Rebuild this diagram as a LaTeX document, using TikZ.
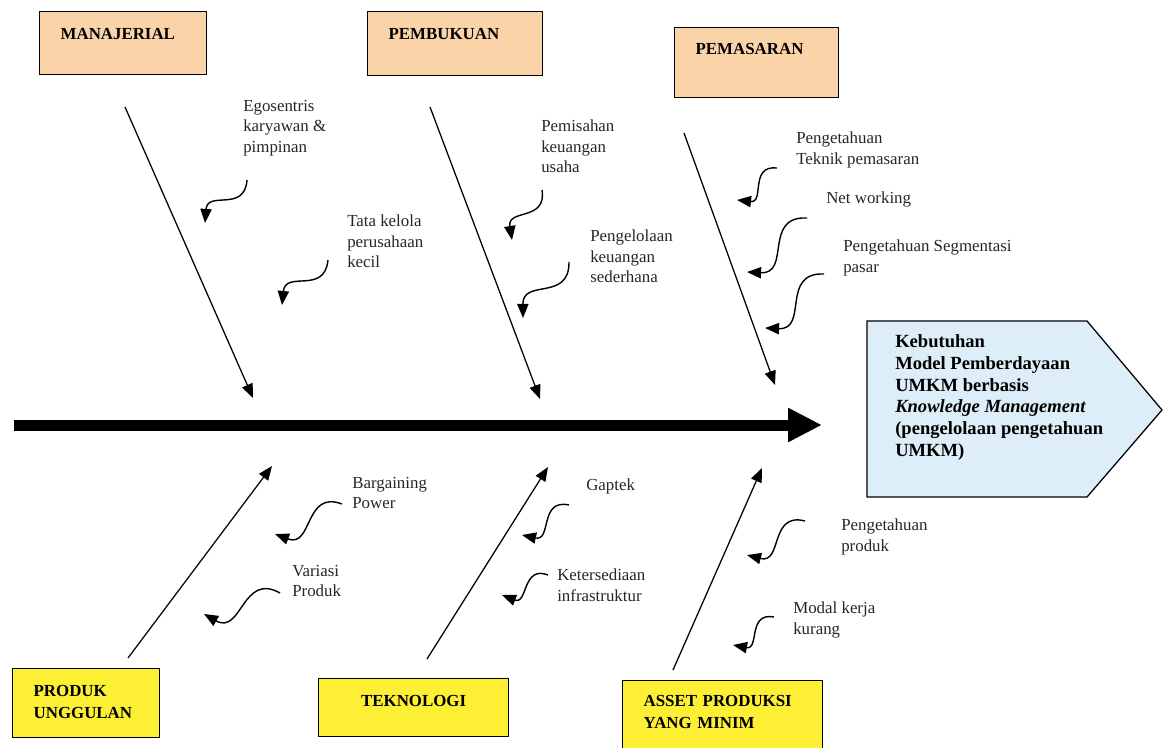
\documentclass[tikz,border=0pt]{standalone}
\usepackage{fontspec}
\setmainfont{Liberation Serif}
\usetikzlibrary{arrows.meta,calc,positioning,backgrounds}
\definecolor{peach}{RGB}{250,211,168}
\definecolor{lemon}{RGB}{253,240,52}
\definecolor{icy}{RGB}{221,238,248}
\tikzset{
  cause/.style     = {draw, line width=0.9pt, anchor=north west, inner xsep=0.525cm, inner ysep=0pt,
                      align=left, font=\bfseries\fontsize{12}{15.5}\selectfont},
  top cause/.style = {cause, fill=peach},
  low cause/.style = {cause, fill=lemon},
  factor/.style    = {anchor=north west, inner sep=0pt, align=left, text=black!85,
                      font=\fontsize{12}{14.5}\selectfont},
  goal/.style      = {anchor=north west, inner sep=0pt, align=left, font=\bfseries\fontsize{13.2}{15.6}\selectfont},
  bone/.style      = {-{Triangle[length=10pt,width=8pt]}, line width=0.9pt},
  spine/.style     = {-{Triangle[length=0.85cm,width=0.8cm]}, line width=0.275cm},
  squiggle/.style  = {-{Triangle[length=10pt,width=8pt]}, line width=1pt,
                      to path={.. controls ($(\tikztostart)!0.55!#1:(\tikztotarget)$)
                               and ($(\tikztotarget)!0.55!#1:(\tikztostart)$) .. (\tikztotarget)}},
  squiggle/.default = -45
}

\begin{document}
\begin{tikzpicture}[x=0.025cm, y=-0.025cm]
  \useasboundingbox (0,0) rectangle (1170,748);

  %Cause boxes
  \node[top cause, text width=3.125cm, text height=0.7cm, text depth=0.875cm] (mgr) at (39,11) {MANAJERIAL};
  \node[top cause, text width=3.325cm, text height=0.7cm, text depth=0.9cm] (book) at (367,11) {PEMBUKUAN};
  \node[top cause, text width=3.05cm, text height=0.675cm, text depth=1.075cm] (mkt) at (674,27) {PEMASARAN};
  \node[low cause, text width=2.625cm, text height=0.69cm, text depth=1.04cm] (prod) at (12,668) {PRODUK\\UNGGULAN};
  \node[low cause, align=center, text width=3.7cm, text height=0.69cm, text depth=0.76cm] (tech) at (318,678) {TEKNOLOGI};
  \node[low cause, text width=3.95cm, text height=0.64cm, text depth=2cm] (asset) at (622,680) {ASSET PRODUKSI\\YANG MINIM};

  %Effect
  \node[goal] (effect) at (895,334) {Kebutuhan\\Model Pemberdayaan\\UMKM berbasis\\
    \textit{Knowledge Management}\\(pengelolaan pengetahuan\\UMKM)};
  \begin{scope}[on background layer]
    \draw[fill=icy, line width=0.9pt] (867,321) -- (1087,321) -- (1162,410) -- (1087,497) -- (867,497) -- cycle;
  \end{scope}

  %Spine
  \coordinate (spine-start) at (14,425);
  \coordinate (spine-end) at (822,425);
  \draw[spine] (spine-start) -- (spine-end);

  %Bones
  \coordinate (mgr-tail) at (125,107);   \coordinate (mgr-head) at (253,398);
  \coordinate (book-tail) at (430,107);  \coordinate (book-head) at (540,399);
  \coordinate (mkt-tail) at (684,133);   \coordinate (mkt-head) at (775,385);
  \coordinate (prod-tail) at (128,658);  \coordinate (prod-head) at (272,466);
  \coordinate (tech-tail) at (427,659);  \coordinate (tech-head) at (548,467);
  \coordinate (asset-tail) at (673,670); \coordinate (asset-head) at (762,468);
  \draw[bone] (mgr-tail) -- (mgr-head);
  \draw[bone] (book-tail) -- (book-head);
  \draw[bone] (mkt-tail) -- (mkt-head);
  \draw[bone] (prod-tail) -- (prod-head);
  \draw[bone] (tech-tail) -- (tech-head);
  \draw[bone] (asset-tail) -- (asset-head);

  %Labels
  \node[factor] (ego) at (243,100) {Egosentris\\karyawan \&\\pimpinan};
  \node[factor] (govern) at (347,215) {Tata kelola\\perusahaan\\kecil};
  \node[factor] (split) at (541,120) {Pemisahan\\keuangan\\usaha};
  \node[factor] (simple) at (590,230) {Pengelolaan\\keuangan\\sederhana};
  \node[factor] (technique) at (796,132) {Pengetahuan\\Teknik pemasaran};
  \node[factor] (network) at (826,192) {Net working};
  \node[factor] (segment) at (843,240) {Pengetahuan Segmentasi\\pasar};
  \node[factor] (bargain) at (352,477) {Bargaining\\Power};
  \node[factor] (variety) at (292,565) {Variasi\\Produk};
  \node[factor] (gaptek) at (586,479) {Gaptek};
  \node[factor] (infra) at (557,569) {Ketersediaan\\infrastruktur};
  \node[factor] (know) at (841,519) {Pengetahuan\\produk};
  \node[factor] (capital) at (793,602) {Modal kerja\\kurang};

  %Squiggly pointers
  \coordinate (ego-a) at (247,180);       \coordinate (ego-b) at (205,223);
  \coordinate (govern-a) at (328,260);    \coordinate (govern-b) at (282,305);
  \coordinate (split-a) at (542,190);     \coordinate (split-b) at (512,240);
  \coordinate (simple-a) at (569,262);    \coordinate (simple-b) at (523,318);
  \coordinate (technique-a) at (777,168); \coordinate (technique-b) at (737,200);
  \coordinate (network-a) at (807,218);   \coordinate (network-b) at (747,272);
  \coordinate (segment-a) at (824,274);   \coordinate (segment-b) at (765,328);
  \coordinate (bargain-a) at (342,504);   \coordinate (bargain-b) at (275,534);
  \coordinate (variety-a) at (280,593);   \coordinate (variety-b) at (204,614);
  \coordinate (gaptek-a) at (569,505);    \coordinate (gaptek-b) at (522,535);
  \coordinate (infra-a) at (548,575);     \coordinate (infra-b) at (502,595);
  \coordinate (know-a) at (805,521);      \coordinate (know-b) at (747,555);
  \coordinate (capital-a) at (774,617);   \coordinate (capital-b) at (733,645);
  \draw[squiggle=40] (ego-a) to (ego-b);
  \draw[squiggle=40] (govern-a) to (govern-b);
  \draw[squiggle=40] (split-a) to (split-b);
  \draw[squiggle=40] (simple-a) to (simple-b);
  \draw[squiggle] (technique-a) to (technique-b);
  \draw[squiggle] (network-a) to (network-b);
  \draw[squiggle] (segment-a) to (segment-b);
  \draw[squiggle] (bargain-a) to (bargain-b);
  \draw[squiggle] (variety-a) to (variety-b);
  \draw[squiggle] (gaptek-a) to (gaptek-b);
  \draw[squiggle] (infra-a) to (infra-b);
  \draw[squiggle] (know-a) to (know-b);
  \draw[squiggle] (capital-a) to (capital-b);
\end{tikzpicture}
\end{document}
